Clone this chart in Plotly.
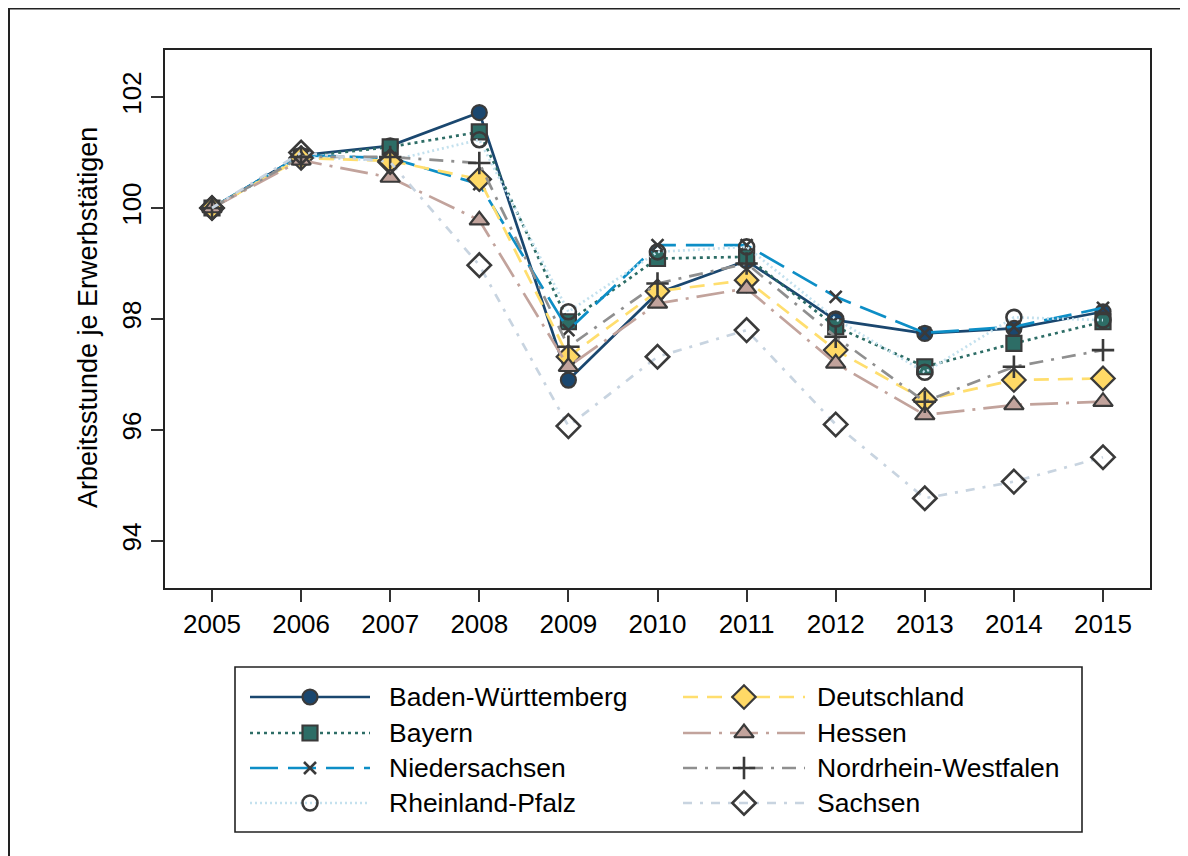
import plotly.graph_objects as go

W, H = 1188, 856
OFF = 8  # page body margin offset of the rendered figure

years = [2005, 2006, 2007, 2008, 2009, 2010, 2011, 2012, 2013, 2014, 2015]

names = ["Baden-Württemberg", "Bayern", "Niedersachsen", "Rheinland-Pfalz",
         "Deutschland", "Hessen", "Nordrhein-Westfalen", "Sachsen"]

bw = [100, 100.95, 101.12, 101.72, 96.90, 98.47, 99.05, 97.98, 97.74, 97.83, 98.13]
bayern = [100, 100.92, 101.10, 101.37, 97.95, 99.09, 99.12, 97.86, 97.14, 97.56, 97.95]
niedersachsen = [100, 100.95, 100.90, 100.43, 97.80, 99.33, 99.33, 98.40, 97.75, 97.86, 98.20]
rlp = [100, 100.92, 100.85, 101.23, 98.13, 99.21, 99.30, 98.00, 97.04, 98.03, 97.98]
deutschland = [100, 100.90, 100.85, 100.52, 97.32, 98.50, 98.70, 97.44, 96.54, 96.90, 96.93]
hessen = [100, 100.86, 100.55, 99.78, 97.14, 98.28, 98.55, 97.20, 96.27, 96.45, 96.51]
nrw = [100, 100.92, 100.92, 100.81, 97.50, 98.64, 99.00, 97.68, 96.51, 97.14, 97.44]
sachsen = [100, 101.00, 100.83, 98.97, 96.07, 97.32, 97.80, 96.10, 94.77, 95.07, 95.51]

series = [bw, bayern, niedersachsen, rlp, deutschland, hessen, nrw, sachsen]

y_ticks = [94, 96, 98, 100, 102]

OUT = "#3a3a3a"
styles = [
    dict(lc="#1a476f", dash="solid", sym="circle", mc="#1a476f", ms=15),
    dict(lc="#2d6d66", dash="3px,4px", sym="square", mc="#2d6d66", ms=15),
    dict(lc="#0d8ec6", dash="28px,10px", sym="x-thin", mc=OUT, ms=12),
    dict(lc="#c4e1ee", dash="2px,3px", sym="circle-open", mc=OUT, ms=15),
    dict(lc="#ffde6e", dash="15px,9px", sym="diamond", mc="#ffd966", ms=18),
    dict(lc="#c2a39c", dash="28px,8px,3px,8px", sym="triangle-up", mc="#c2a39c", ms=17),
    dict(lc="#8f8f8f", dash="14px,8px,3px,8px", sym="cross-thin", mc=OUT, ms=16),
    dict(lc="#c8d4e0", dash="9px,8px,3px,8px", sym="diamond-open", mc=OUT, ms=18),
]

FONT = "Liberation Sans, Arial, sans-serif"

# plot area in reference pixels
PL, PR, PT, PB = 165, 1150, 50, 588
# legend box in reference pixels
LL, LR, LT, LB = 235, 1082, 667, 832


def fx(px):
    return (px - OFF) / W


def fy(py):
    return 1 - (py - OFF) / H


fig = go.Figure()


def marker_dict(s):
    if s["sym"] in ("x-thin", "cross-thin", "circle-open", "diamond-open"):
        return dict(symbol=s["sym"], size=s["ms"], color=OUT,
                    line=dict(color=OUT, width=2.6))
    return dict(symbol=s["sym"], size=s["ms"], color=s["mc"],
                line=dict(color=OUT, width=2.2))


for name, vals, s in zip(names, series, styles):
    fig.add_trace(go.Scatter(
        x=years, y=vals, name=name, mode="lines+markers",
        line=dict(color=s["lc"], width=2.7, dash=s["dash"]),
        marker=marker_dict(s), showlegend=False,
        xaxis="x", yaxis="y"))

# custom legend (two columns, four rows)
col_line = [(250, 370), (683, 805)]
col_text = [387, 815]
rows = [697, 733, 768, 803]
for i, (name, s) in enumerate(zip(names, styles)):
    c, r = divmod(i, 4)
    x0, x1 = col_line[c]
    yy = rows[r]
    fig.add_trace(go.Scatter(
        x=[x0, x1], y=[yy, yy], mode="lines",
        line=dict(color=s["lc"], width=2.7, dash=s["dash"]),
        showlegend=False, hoverinfo="skip", xaxis="x2", yaxis="y2"))
    fig.add_trace(go.Scatter(
        x=[(x0 + x1) / 2], y=[yy], mode="markers",
        marker=marker_dict(s), showlegend=False, hoverinfo="skip",
        xaxis="x2", yaxis="y2"))
    fig.add_annotation(x=col_text[c], y=yy, xref="x2", yref="y2",
                       text=name, showarrow=False, xanchor="left",
                       yanchor="middle",
                       font=dict(family=FONT, size=26.5, color="black"))

xr = [2005 - 47 / 89.1, 2015 + 47 / 89.1]
yr = [94 - 47 / 55.5, 102 + 47 / 55.5]

fig.update_layout(
    width=W, height=H,
    margin=dict(l=0, r=0, t=0, b=0),
    paper_bgcolor="white", plot_bgcolor="white",
    font=dict(family=FONT, size=26, color="black"),
    template="none",
    xaxis=dict(domain=[fx(PL), fx(PR)], range=xr, tickmode="array",
               tickvals=years, ticktext=[str(y) for y in years],
               showgrid=False, zeroline=False, showline=True, mirror=True,
               linecolor="#222222", linewidth=1.6, ticks="outside",
               ticklen=12, tickwidth=1.5, tickcolor="#333333",
               tickfont=dict(family=FONT, size=26, color="black"),
               automargin=False, fixedrange=True),
    yaxis=dict(domain=[fy(PB), fy(PT)], range=yr, tickmode="array",
               tickvals=y_ticks, ticktext=[str(v) for v in y_ticks],
               tickangle=-90,
               showgrid=False, zeroline=False, showline=True, mirror=True,
               linecolor="#222222", linewidth=1.6, ticks="outside",
               ticklen=12, tickwidth=1.5, tickcolor="#333333",
               tickfont=dict(family=FONT, size=26, color="black"),
               automargin=False, fixedrange=True),
    xaxis2=dict(domain=[fx(LL), fx(LR)], range=[LL, LR], visible=False,
                fixedrange=True),
    yaxis2=dict(domain=[fy(LB), fy(LT)], range=[LB, LT],
                visible=False, fixedrange=True),
    showlegend=False,
)

# y-axis title
fig.add_annotation(x=fx(88), y=fy(318), xref="paper", yref="paper",
                   text="Arbeitsstunde je Erwerbstätigen", textangle=-90,
                   showarrow=False, xanchor="center", yanchor="middle",
                   font=dict(family=FONT, size=27, color="black"))

# legend frame
fig.add_shape(type="rect", xref="paper", yref="paper",
              x0=fx(LL), x1=fx(LR), y0=fy(LB), y1=fy(LT),
              line=dict(color="#222222", width=1.6), fillcolor="rgba(0,0,0,0)")

# outer frame (left and top edges of the graph region)
fig.add_shape(type="line", xref="paper", yref="paper",
              x0=1 / W, x1=1 / W, y0=0, y1=1,
              line=dict(color="#222222", width=2))
fig.add_shape(type="line", xref="paper", yref="paper",
              x0=0, x1=1, y0=1 - 0.5 / H, y1=1 - 0.5 / H,
              line=dict(color="#222222", width=2))

fig.write_html("out.html")
